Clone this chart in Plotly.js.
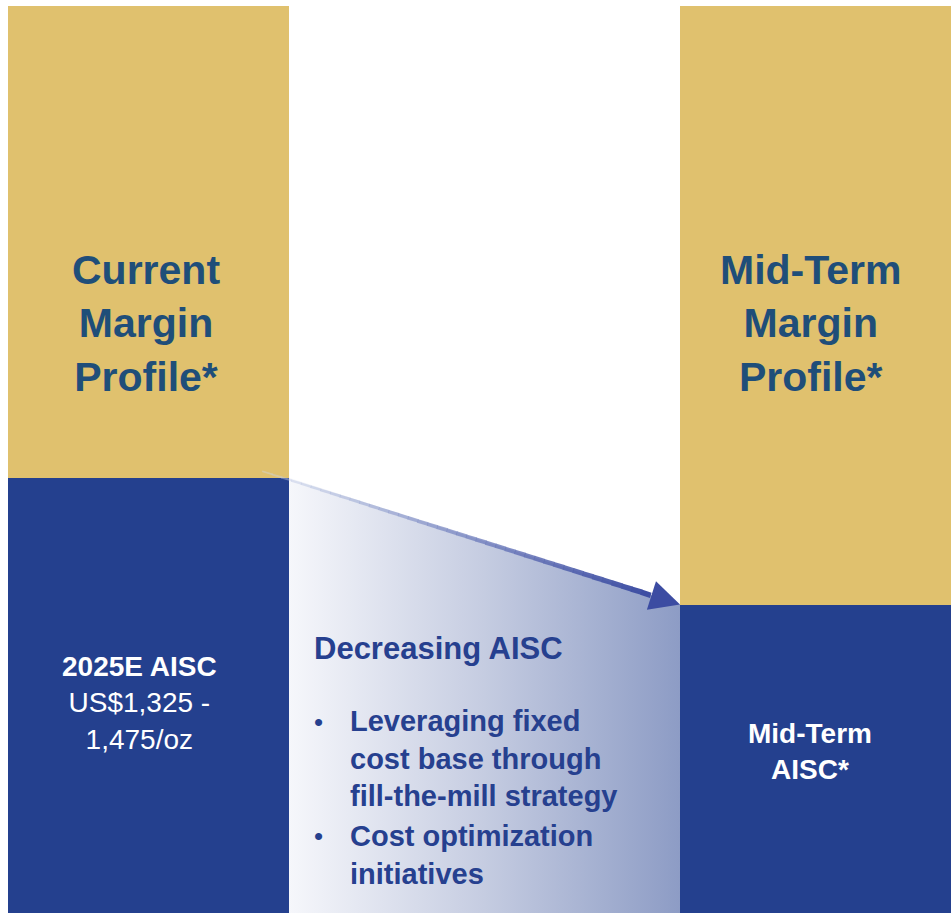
<!DOCTYPE html>
<html><head><meta charset="utf-8">
<script src="https://cdn.plot.ly/plotly-3.0.1.min.js"></script>
<style>html,body{margin:0;padding:0;background:#fff}#chart{width:951px;height:913px}</style>
</head><body><div id="chart"></div>
<script>
// ---- data ----
const categories = ["Current", "Mid-Term"];
const xPos = [0, 1];
const aiscShare = [48, 34];      // blue (AISC) part of each bar
const marginShare = [52, 66];    // gold (margin) part of each bar
const marginLabels = ["Current<br>Margin<br>Profile*", "Mid-Term<br>Margin<br>Profile*"];
const aiscLabels = ["<b>2025E AISC</b><br>US$1,325 -<br>1,475/oz", "<b>Mid-Term<br>AISC*</b>"];
const middleTitle = "Decreasing AISC";
const bullets = ["Leveraging fixed<br>cost base through<br>fill-the-mill strategy", "Cost optimization<br>initiatives"];

// ---- style ----
const W = 951, H = 913;
const BLUE = "#24408E", GOLD = "#E0C16E", TITLE = "#1F4E79", MID = "#26408F";
const barW = 0.41815;
const FONT = "Liberation Sans, Arial, sans-serif";
const px = v => v / W;
const py = v => 1 - v / H;

const traces = [
  {type: "bar", x: xPos, y: aiscShare, width: barW, marker: {color: BLUE, line: {width: 0}},
   name: "AISC", hoverinfo: "skip", text: categories, textposition: "none"},
  {type: "bar", x: xPos, y: marginShare, width: barW, marker: {color: GOLD, line: {width: 0}},
   name: "Margin", hoverinfo: "skip", textposition: "none"},
  {type: "scatter", mode: "lines", line: {width: 0, color: "rgba(0,0,0,0)"},
   x: [xPos[0] + barW / 2, xPos[1] - barW / 2, xPos[1] - barW / 2, xPos[0] + barW / 2, xPos[0] + barW / 2],
   y: [aiscShare[0], aiscShare[1], 0, 0, aiscShare[0]],
   fill: "toself",
   fillgradient: {type: "horizontal", colorscale: [[0, "#f6f7fb"], [0.5, "#c5cce1"], [1, "#8d9cc5"]]},
   hoverinfo: "skip"}
];

// arrow: from left bar top-right corner to right bar AISC level
const S = {x: xPos[0] + barW / 2 - 0.04, y: aiscShare[0] + 0.7};
const E = {x: xPos[1] - barW / 2, y: aiscShare[1]};
const headFrac = 0.93;
const Hp = {x: S.x + (E.x - S.x) * headFrac, y: S.y + (E.y - S.y) * headFrac};
const shapes = [];
const N = 40;
for (let i = 0; i < N; i++) {
  const t0 = i / N, t1 = (i + 1) / N;
  const tm = (t0 + t1) / 2;
  const k = Math.pow(tm, 0.7);
  const r = Math.round(215 + (60 - 215) * k), g = Math.round(225 + (76 - 225) * k), b = Math.round(242 + (162 - 242) * k);
  shapes.push({type: "line", xref: "x", yref: "y", layer: "above",
    x0: S.x + (Hp.x - S.x) * t0, y0: S.y + (Hp.y - S.y) * t0,
    x1: S.x + (Hp.x - S.x) * t1 + (t1 < 1 ? 0.001 : 0), y1: S.y + (Hp.y - S.y) * t1,
    line: {color: `rgba(${r},${g},${b},${0.35 + 0.65 * k})`, width: 1.5 + 4 * k}});
}

const ann = (text, x, y, size, color, xanchor, align) => ({
  text, xref: "paper", yref: "paper", x: px(x), y: py(y), xanchor: xanchor || "center", yanchor: "middle",
  showarrow: false, font: {family: FONT, size, color}, align: align || "center"});

const annotations = [
  ann("<b>" + marginLabels[0] + "</b>", 146, 323, 41, TITLE),
  ann("<b>" + marginLabels[1] + "</b>", 810, 323, 41, TITLE),
  ann(aiscLabels[0], 139, 703, 28, "#ffffff"),
  ann(aiscLabels[1], 810, 751, 28, "#ffffff"),
  ann("<b>" + middleTitle + "</b>", 312, 648, 31, MID, "left", "left"),
  ann("<b>" + bullets[0] + "</b>", 348, 758, 29, MID, "left", "left"),
  ann("<b>" + bullets[1] + "</b>", 348, 855, 29, MID, "left", "left"),
  ann("•", 318, 722, 26, MID),
  ann("•", 318, 836, 26, MID),
  {text: "", x: E.x, y: E.y, ax: Hp.x, ay: Hp.y, axref: "x", ayref: "y", xref: "x", yref: "y",
   showarrow: true, arrowhead: 2, arrowsize: 1.2, arrowwidth: 5, arrowcolor: "#3c4ca2", standoff: 0, startstandoff: 0}
];

const layout = {
  width: W, height: H, margin: {l: 0, r: 0, t: 0, b: 0, pad: 0},
  paper_bgcolor: "#ffffff", plot_bgcolor: "#ffffff",
  barmode: "stack", bargap: 0, showlegend: false,
  xaxis: {range: [-148.5 / 672, (W - 148.5) / 672], visible: false, fixedrange: true},
  yaxis: {range: [0, H / 9.07], visible: false, fixedrange: true},
  shapes: shapes, annotations: annotations,
  font: {family: FONT}
};

Plotly.newPlot("chart", traces, layout, {staticPlot: true, displayModeBar: false});
</script>
</body></html>
